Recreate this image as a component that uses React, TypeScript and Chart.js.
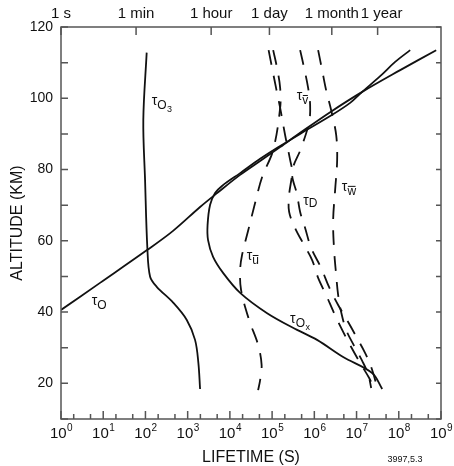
import React, { useEffect, useRef } from "react";
import { Chart, registerables } from "chart.js";
Chart.register(...registerables);

const FONT = '"Liberation Sans", Arial, Helvetica, sans-serif';

// ---- data: altitude (km) and lifetime (s) ----
const o3Alt = [112.8, 93.9, 77, 58, 49.9, 47.1, 42.6, 37.8, 32.2, 25.7, 18.4];
const o3Life = [107, 89, 98, 111, 129, 185, 458, 953, 1496, 1795, 1968];

const oAlt = [40.6, 48.2, 57.4, 62.8, 69.5, 73.4, 78.5, 82.4, 86.3, 90.3, 96.1, 101.8, 107.9, 113.5];
const oLife = [1, 8.4, 109, 451, 1968, 4977, 17460, 52000, 1.55e5, 4.61e5, 2.37e6, 1.36e7, 1.08e8, 7.69e8];

const oxAlt = [18.4, 22.9, 27.4, 32.2, 35.0, 39.7, 45.4, 51.0, 55.5, 60.2, 64.4, 70.1, 73.4, 75.4, 79.0, 83.0, 86.6, 90.0, 95.0, 98.7, 101.8, 106.2, 110.2, 113.5];
const oxLife = [4.05e7, 2.34e7, 4.81e6, 1.16e6, 3.91e5, 7.62e4, 1.75e4, 6.9e3, 4.0e3, 3.04e3, 2.96e3, 3.4e3, 4.46e3, 6.5e3, 1.75e4, 5.2e4, 1.55e5, 4.6e5, 2.37e6, 7.05e6, 1.36e7, 3.62e7, 8.2e7, 1.86e8];

const uAlt = [113.5, 108.5, 102.9, 97.3, 85.5, 77.9, 70.6, 62.8, 56.0, 51.8, 46.2, 37.8, 30.8, 25.2, 20.9, 18.1];
const uLife = [1.06e5, 1.31e5, 1.55e5, 1.55e5, 1.06e5, 5.8e4, 3.95e4, 2.7e4, 1.94e4, 1.75e4, 1.84e4, 2.85e4, 4.66e4, 5.64e4, 5.2e4, 4.66e4];

const dAlt = [113.5, 108.5, 102.9, 97.3, 89.7, 82.7, 79.3, 72.9, 68.1, 63.6, 58.8, 54.6, 49.6, 44.8, 39.7, 35.0, 30.2, 25.7, 21.5, 18.7];
const dLife = [8.26e4, 1.0e5, 1.24e5, 1.55e5, 2.03e5, 2.67e5, 2.98e5, 2.53e5, 2.53e5, 3.5e5, 5.73e5, 8.87e5, 1.23e6, 1.9e6, 2.94e6, 4.56e6, 7.45e6, 1.22e7, 1.99e7, 2.61e7];

const vAlt = [113.5, 108.5, 102.9, 98.1, 93.3, 86.0, 79.3, 72.9, 68.1, 63.6, 58.0, 52.4, 47.0, 42.0, 37.2, 32.7, 28.5, 24.6, 20.9, 18.7];
const vLife = [4.61e5, 5.73e5, 7.13e5, 7.95e5, 7.53e5, 4.86e5, 2.98e5, 3.91e5, 4.61e5, 6.05e5, 8.4e5, 1.45e6, 2.24e6, 3.66e6, 6.32e6, 1.03e7, 1.6e7, 2.22e7, 2.76e7, 3.08e7];

const wAlt = [113.5, 107.9, 102.3, 96.7, 89.7, 82.7, 74.3, 65.8, 57.4, 50.4, 44.8, 40.0, 35.0, 30.5, 26.3, 22.6, 18.7];
const wLife = [1.23e6, 1.53e6, 1.9e6, 2.5e6, 3.29e6, 3.47e6, 3.11e6, 2.79e6, 2.94e6, 3.29e6, 3.66e6, 4.32e6, 5.67e6, 8.77e6, 1.36e7, 1.88e7, 2.22e7];

// ---- axis ticks / labels ----
const xDecades = [1, 10, 100, 1e3, 1e4, 1e5, 1e6, 1e7, 1e8, 1e9];
const xExponents = ["0", "1", "2", "3", "4", "5", "6", "7", "8", "9"];
const xMinorMultipliers = [2, 5];
const yTicks = [10, 20, 30, 40, 50, 60, 70, 80, 90, 100, 110, 120];
const yLabels = [20, 40, 60, 80, 100, 120];
const timeTickValues = [1, 60, 3600, 86400, 2592000, 31536000];
const timeTickLabels = ["1 s", "1 min", "1 hour", "1 day", "1 month", "1 year"];

// ---- curve labels (anchor: left of tau, in data coords) ----
const curveLabelSubs = ["O3", "O", "u", "D", "w", "v", "Ox"];
const curveLabelLife = [141, 5.34, 2.51e4, 5.43e5, 4.49e6, 3.85e5, 2.67e5];
const curveLabelAlt = [99.1, 43.0, 55.6, 71.0, 75.0, 100.5, 37.9];

function series(alt: number[], life: number[], dashed: boolean) {
  return {
    data: life.map((t, i) => ({ x: t, y: alt[i] })),
    showLine: true,
    borderColor: "#111",
    borderWidth: 1.8,
    borderDash: dashed ? [15, 11] : [],
    pointRadius: 0,
    tension: 0.35,
    fill: false,
  };
}

function drawTauLabel(ctx: CanvasRenderingContext2D, x: number, y: number, sub: string) {
  ctx.fillStyle = "#111";
  ctx.textBaseline = "middle";
  ctx.textAlign = "left";
  ctx.font = `14px ${FONT}`;
  ctx.fillText("τ", x, y);
  let cx = x + ctx.measureText("τ").width;
  const main = sub.charAt(0);
  const rest = sub.slice(1);
  const isLower = main === "u" || main === "v" || main === "w";
  ctx.font = `12px ${FONT}`;
  const sy = main === "D" ? y + 2 : y + 4.5;
  ctx.fillText(main, cx, sy);
  const mw = ctx.measureText(main).width;
  if (isLower) {
    ctx.strokeStyle = "#111";
    ctx.lineWidth = 1;
    ctx.beginPath();
    ctx.moveTo(cx + 0.5, sy - 5.5);
    ctx.lineTo(cx + mw - 0.5, sy - 5.5);
    ctx.stroke();
  }
  cx += mw;
  if (rest) {
    ctx.font = `9px ${FONT}`;
    ctx.fillText(rest, cx + 0.5, sy + 3.5);
  }
}

const decorPlugin = {
  id: "decor",
  afterDatasetsDraw(chart: any) {
    const { ctx, chartArea: a, scales } = chart;
    const xs = scales.x;
    const ys = scales.y;
    ctx.save();
    ctx.strokeStyle = "#555";
    ctx.lineWidth = 1.5;
    ctx.strokeRect(a.left, a.top, a.right - a.left, a.bottom - a.top);

    ctx.beginPath();
    xDecades.forEach((v, i) => {
      const px = xs.getPixelForValue(v);
      ctx.moveTo(px, a.bottom);
      ctx.lineTo(px, a.bottom - 8);
      if (i < xDecades.length - 1) {
        xMinorMultipliers.forEach((m) => {
          const p = xs.getPixelForValue(m * v);
          ctx.moveTo(p, a.bottom);
          ctx.lineTo(p, a.bottom - 5);
        });
      }
    });
    timeTickValues.forEach((v) => {
      const px = xs.getPixelForValue(v);
      ctx.moveTo(px, a.top);
      ctx.lineTo(px, a.top + 8);
    });
    yTicks.forEach((v) => {
      const py = ys.getPixelForValue(v);
      ctx.moveTo(a.left, py);
      ctx.lineTo(a.left + 7, py);
      ctx.moveTo(a.right, py);
      ctx.lineTo(a.right - 5, py);
    });
    ctx.stroke();

    ctx.fillStyle = "#111";
    ctx.textBaseline = "alphabetic";
    xDecades.forEach((v, i) => {
      const px = xs.getPixelForValue(v);
      ctx.font = `15px ${FONT}`;
      const w1 = ctx.measureText("10").width;
      ctx.font = `10px ${FONT}`;
      const w2 = ctx.measureText(xExponents[i]).width;
      const left = px - (w1 + w2) / 2;
      ctx.textAlign = "left";
      ctx.font = `15px ${FONT}`;
      ctx.fillText("10", left, a.bottom + 19);
      ctx.font = `10px ${FONT}`;
      ctx.fillText(xExponents[i], left + w1 + 0.5, a.bottom + 12);
    });
    ctx.font = `15px ${FONT}`;
    ctx.textAlign = "center";
    ctx.textBaseline = "middle";
    timeTickValues.forEach((v, i) => {
      const px = xs.getPixelForValue(v);
      ctx.fillText(timeTickLabels[i], px + (i === timeTickLabels.length - 1 ? 4 : 0), 14);
    });
    ctx.font = `14px ${FONT}`;
    ctx.textAlign = "right";
    yLabels.forEach((v) => {
      ctx.fillText(String(v), a.left - 8, ys.getPixelForValue(v));
    });
    ctx.font = `16px ${FONT}`;
    ctx.textAlign = "center";
    ctx.fillText("LIFETIME (S)", (a.left + a.right) / 2, 458);
    ctx.save();
    ctx.translate(18, (a.top + a.bottom) / 2);
    ctx.rotate(-Math.PI / 2);
    ctx.fillText("ALTITUDE (KM)", 0, 0);
    ctx.restore();
    ctx.font = `9px ${FONT}`;
    ctx.fillText("3997,5.3", 405, 460);

    curveLabelSubs.forEach((s, i) => {
      drawTauLabel(ctx, xs.getPixelForValue(curveLabelLife[i]), ys.getPixelForValue(curveLabelAlt[i]), s);
    });
    ctx.restore();
  },
};

export default function App() {
  const ref = useRef<HTMLCanvasElement>(null);
  useEffect(() => {
    const chart = new Chart(ref.current as HTMLCanvasElement, {
      type: "scatter",
      data: {
        datasets: [
          series(o3Alt, o3Life, false),
          series(oAlt, oLife, false),
          series(oxAlt, oxLife, false),
          series(uAlt, uLife, true),
          series(dAlt, dLife, true),
          series(vAlt, vLife, true),
          series(wAlt, wLife, true),
        ] as any,
      },
      options: {
        responsive: false,
        animation: false,
        layout: { padding: { left: 61, right: 13, top: 27, bottom: 47 } },
        scales: {
          x: { type: "logarithmic", min: 1, max: 1e9, display: false },
          y: { type: "linear", min: 10, max: 120, display: false },
        },
        plugins: { legend: { display: false }, tooltip: { enabled: false } },
      } as any,
      plugins: [decorPlugin],
    });
    return () => chart.destroy();
  }, []);
  return (
    <div style={{ position: "fixed", left: 0, top: 0, width: 454, height: 466, background: "#fff" }}>
      <canvas ref={ref} width={454} height={466} style={{ width: 454, height: 466, display: "block" }} />
    </div>
  );
}
